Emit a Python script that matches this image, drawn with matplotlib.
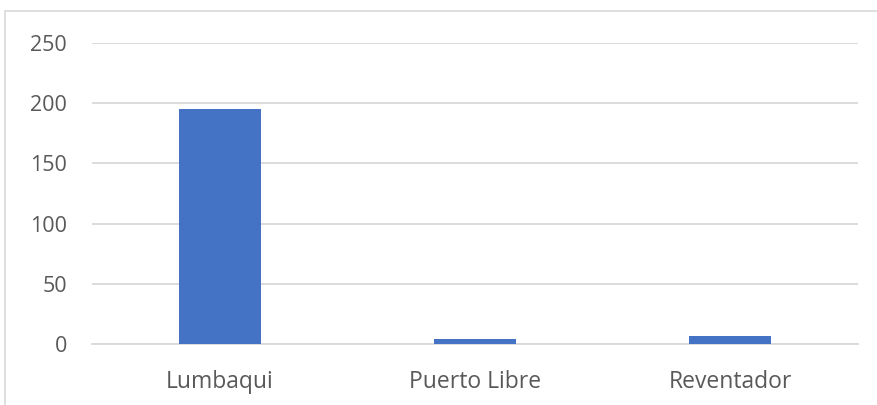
import matplotlib
import matplotlib.pyplot as plt
from matplotlib.patches import Rectangle
matplotlib.use('Agg')

# parroquias y conteos
parishes = ['Lumbaqui', 'Puerto Libre', 'Reventador']
counts = [195, 4, 7]
yticks = [0, 50, 100, 150, 200, 250]

bar_color = '#4472C4'
grid_color = '#D9D9D9'
text_color = '#595959'

plt.rcParams['font.family'] = ['Open Sans', 'DejaVu Sans']

fig = plt.figure(figsize=(8.77, 4.05), dpi=100)
ax = fig.add_axes([92 / 877, 1 - 344 / 405, (858 - 92) / 877, (344 - 43) / 405])

# chart frame, only its top and left edges fall inside the image
fig.patches.append(Rectangle((5 / 877, -0.1), 1.2, (405 - 11) / 405 + 0.1,
                             transform=fig.transFigure, fill=False,
                             edgecolor=grid_color, linewidth=1.2))

x = range(len(parishes))
ax.bar(x, counts, width=0.32, color=bar_color, zorder=3)

ax.set_xlim(-0.5, len(parishes) - 0.5)
ax.set_ylim(0, 250)
ax.set_yticks(yticks)
ax.set_xticks(list(x))
ax.set_xticklabels(parishes)
ax.yaxis.grid(True, color=grid_color, linewidth=1.3, zorder=0)
ax.tick_params(axis='y', length=0, labelsize=15.5, colors=text_color, pad=18)
ax.tick_params(axis='x', length=0, labelsize=16.5, colors=text_color, pad=19)
for side in ['top', 'right', 'left']:
    ax.spines[side].set_visible(False)
ax.spines['bottom'].set_color(grid_color)
ax.spines['bottom'].set_linewidth(1.3)

fig.savefig('out.png', dpi=100)
